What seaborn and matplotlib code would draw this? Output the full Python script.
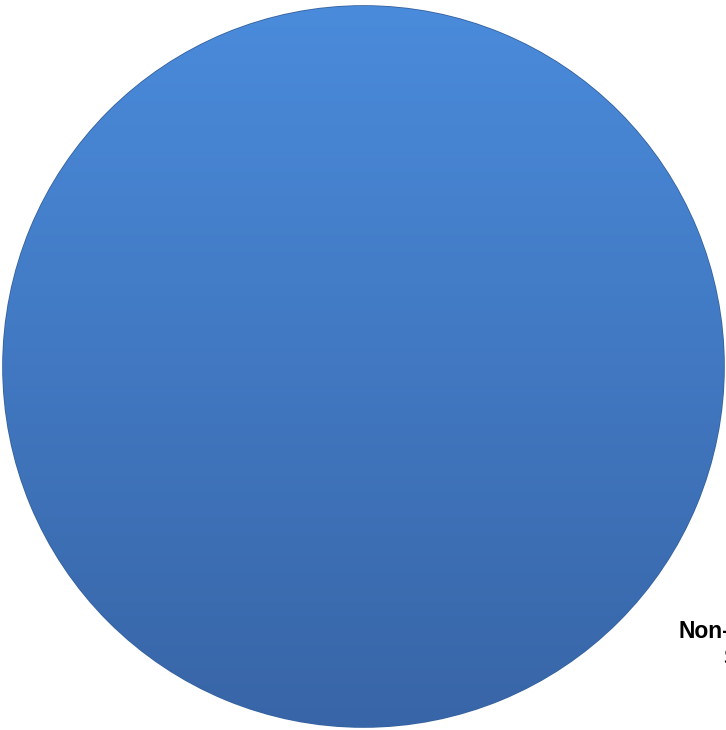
import numpy as np
import matplotlib
matplotlib.use("Agg")
import matplotlib.pyplot as plt
import seaborn as sns

# Dane wykresu
labels = ["", "Non-Residential\nSectors"]
values = [100, 0]
top_color = "#4A8BDB"
bottom_color = "#3865A7"

sns.set_theme(style="white")
plt.rcParams['font.family'] = ['Liberation Sans', 'DejaVu Sans']

fig = plt.figure(figsize=(7.26, 7.30), dpi=100)
ax = fig.add_axes([3 / 726, 3 / 730, 721 / 726, 721 / 730])

wedges, texts = ax.pie(values, labels=labels, startangle=-41.5, labeldistance=1.165,
                       colors=[sns.blend_palette([top_color, bottom_color], 3)[1]] * 2,
                       wedgeprops=dict(edgecolor="#35629F", linewidth=1.2),
                       textprops=dict(fontsize=16.5, fontweight="bold", color="black",
                                      multialignment="center", linespacing=1.2))

# Gradient wewnątrz koła (od jaśniejszego u góry do ciemniejszego u dołu)
cmap = sns.blend_palette([top_color, bottom_color], as_cmap=True)
grad = np.linspace(0, 1, 256).reshape(-1, 1)
im = ax.imshow(grad, extent=(-1, 1, -1, 1), cmap=cmap, aspect="auto", origin="upper",
               zorder=wedges[0].get_zorder() + 0.1)
im.set_clip_path(wedges[0])

ax.set_xlim(-1, 1)
ax.set_ylim(-1, 1)
ax.set_axis_off()

plt.savefig("out.png", dpi=100)
